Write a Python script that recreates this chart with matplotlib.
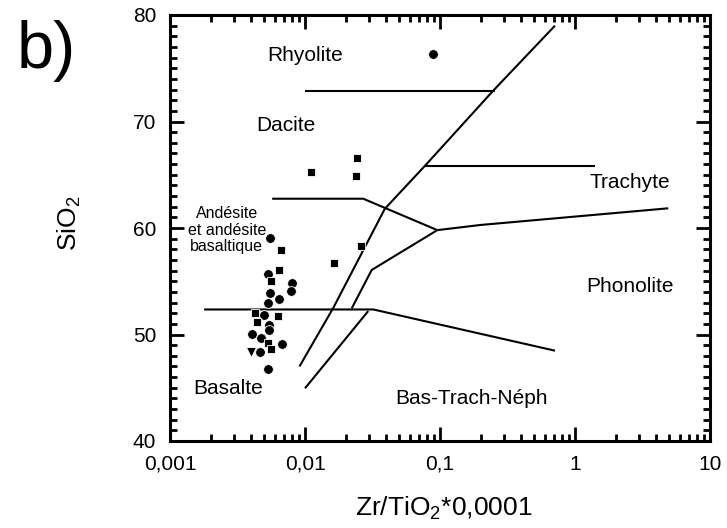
import matplotlib
matplotlib.use("Agg")
import matplotlib.pyplot as plt
from matplotlib.ticker import FixedLocator, FixedFormatter, MultipleLocator

plt.rcParams['font.family'] = ['Liberation Sans', 'DejaVu Sans']
plt.rcParams['mathtext.default'] = 'regular'

# boundary lines of the diagram (x = Zr/TiO2*0.0001, y = SiO2)
rhy_dac_x = [0.01, 0.255]
rhy_dac_y = [72.9, 72.9]
subalk_x = [0.0091, 0.0162, 0.039, 0.0775, 0.248, 0.711]
subalk_y = [47.0, 52.5, 61.8, 65.85, 72.9, 79.0]
trachyte_x = [0.0775, 1.41]
trachyte_y = [65.85, 65.85]
andesite_x = [0.00571, 0.027, 0.0955]
andesite_y = [62.75, 62.75, 59.8]
phonolite_x = [0.0955, 0.198, 4.91]
phonolite_y = [59.8, 60.28, 61.85]
trachyand_x = [0.0955, 0.0312, 0.0222]
trachyand_y = [59.8, 56.06, 52.46]
basalt_x = [0.00179, 0.0321, 0.711]
basalt_y = [52.35, 52.35, 48.48]
btn_x = [0.0294, 0.01]
btn_y = [52.2, 44.95]

# samples
circle_x = [0.0893, 0.00551, 0.00528, 0.00806, 0.00787, 0.00551, 0.00645, 0.00535,
            0.005, 0.0054, 0.0054, 0.00407, 0.00472, 0.00671, 0.00467, 0.00528]
circle_y = [76.3, 59.1, 55.68, 54.8, 54.08, 53.93, 53.3, 52.99,
            51.83, 50.89, 50.42, 50.08, 49.7, 49.08, 48.33, 46.76]
square_x = [0.01107, 0.0242, 0.0239, 0.00664, 0.0165, 0.0259, 0.00641, 0.0056,
            0.00427, 0.00634, 0.00438, 0.00535, 0.00557]
square_y = [65.26, 66.54, 64.9, 57.93, 56.7, 58.34, 56.06, 55.0,
            51.99, 51.77, 51.2, 49.17, 48.64]
triangle_x = [0.00398]
triangle_y = [48.33]

labels = ["Rhyolite", "Dacite", "Trachyte", "Phonolite", "Bas-Trach-Néph", "Basalte"]
label_x = [0.01, 0.0072, 2.55, 2.55, 0.17, 0.00271]
label_y = [76.2, 69.6, 64.25, 54.49, 44.0, 44.95]

xtick_vals = [0.001, 0.01, 0.1, 1, 10]
xtick_labels = ["0,001", "0,01", "0,1", "1", "10"]

fig = plt.figure(figsize=(7.27, 5.28), dpi=100)
ax = fig.add_axes([170 / 727, 1 - 441 / 528, 540 / 727, 426 / 528])

lw = 1.5
for xs, ys in [(rhy_dac_x, rhy_dac_y), (subalk_x, subalk_y), (trachyte_x, trachyte_y),
               (andesite_x, andesite_y), (phonolite_x, phonolite_y),
               (trachyand_x, trachyand_y), (basalt_x, basalt_y), (btn_x, btn_y)]:
    ax.plot(xs, ys, color='black', lw=lw, solid_capstyle='butt')

ax.plot(circle_x, circle_y, 'o', color='black', ms=7, mec='white', mew=0.6, ls='none')
ax.plot(square_x, square_y, 's', color='black', ms=6.3, mec='white', mew=0.6, ls='none')
ax.plot(triangle_x, triangle_y, 'v', color='black', ms=7.5, mec='white', mew=0.6, ls='none')

for t, x, y in zip(labels, label_x, label_y):
    ax.text(x, y, t, ha='center', va='center', fontsize=15)
ax.text(0.00263, 59.8, "Andésite\net andésite\nbasaltique", ha='center', va='center',
        fontsize=11.5, linespacing=1.15)

ax.set_xscale('log')
ax.set_xlim(0.001, 10)
ax.set_ylim(40, 80)
ax.xaxis.set_major_locator(FixedLocator(xtick_vals))
ax.xaxis.set_major_formatter(FixedFormatter(xtick_labels))
ax.xaxis.set_minor_locator(FixedLocator([m * 10.0 ** k for k in range(-3, 1) for m in range(2, 10)]))
ax.xaxis.set_minor_formatter(FixedFormatter([]))
ax.yaxis.set_major_locator(MultipleLocator(10))
ax.yaxis.set_minor_locator(MultipleLocator(1))

ax.tick_params(which='both', direction='in', top=True, right=True, width=2, labelsize=15)
ax.tick_params(which='major', length=10, pad=10)
ax.tick_params(which='minor', length=5)
for s in ax.spines.values():
    s.set_linewidth(2.2)

ax.set_ylabel("SiO$_2$", fontsize=19)
ax.yaxis.set_label_coords(-0.161, 0.51)
ax.set_xlabel("Zr/TiO$_2$*0,0001", fontsize=19)
ax.xaxis.set_label_coords(0.507, -0.127)

fig.text(17 / 727, 1 - 68 / 528, "b)", fontsize=48, ha='left', va='baseline')

plt.savefig('out.png', dpi=100)
